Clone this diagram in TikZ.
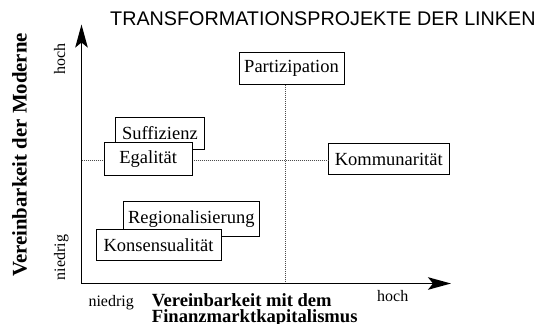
\documentclass[tikz,border=0pt]{standalone}
\usepackage{fontspec}
\setmainfont{Liberation Serif}
\newfontfamily\titlefont{Liberation Sans}
\usetikzlibrary{arrows.meta}
\begin{document}
\begin{tikzpicture}[x=1pt,y=-1pt,
  boxnode/.style={draw,line width=0.8pt,fill=white,inner sep=0pt,font=\fontsize{18.5}{20}\selectfont},
  axisline/.style={line width=1.8pt,-{Stealth[length=23pt,width=12.5pt,inset=5pt]}},
  guide/.style={line width=0.5pt,black!70,dash pattern=on 1pt off 1pt},
  smalllabel/.style={font=\fontsize{16}{18}\selectfont,inner sep=0pt},
  boldlabel/.style={font=\bfseries\fontsize{18.6}{16}\selectfont,inner sep=0pt}]
\useasboundingbox (0,0) rectangle (541,324);
\fill[white] (0,0) rectangle (541,324);
% coordinates
\coordinate (O) at (81.5,283.5);
\coordinate (ytip) at (81.5,24.5);
\coordinate (xtip) at (451,283.5);
\coordinate (vbot) at (285.6,283.5);
\coordinate (hl) at (81.5,160.3);
% boxes (back ones first)
\node[boxnode,minimum width=105pt,minimum height=32pt] (part) at (291.5,68.5) {Partizipation};
\node[boxnode,minimum width=120.5pt,minimum height=31.5pt] (komm) at (388.7,159) {Kommunarität};
% guides
\draw[guide] (vbot |- part.south) -- (vbot);
\draw[guide] (hl) -- (hl -| komm.west);
\node[boxnode,minimum width=88.3pt,minimum height=32pt] (suff) at (159.9,133.3) {Suffizienz};
\node[boxnode,minimum width=88.3pt,minimum height=33pt] (egal) at (148.2,159.2) {Egalität};
\node[boxnode,minimum width=136.6pt,minimum height=35.5pt] (reg) at (191.3,218.8) {Regionalisierung};
\node[boxnode,minimum width=125pt,minimum height=30.5pt] (kons) at (158.5,245) {Konsensualität};
% axes
\draw[axisline] (O) -- (ytip);
\draw[axisline] (O) -- (xtip);
% title
\node[anchor=base west,inner sep=0pt,font=\titlefont\fontsize{19.75}{22}\selectfont] (title) at (110,25.7) {TRANSFORMATIONSPROJEKTE DER LINKEN};
% y labels
\node[inner sep=0pt,rotate=90,anchor=base,font=\bfseries\fontsize{20.8}{22}\selectfont] (ylab) at (26.7,155) {Vereinbarkeit der Moderne};
\node[smalllabel,rotate=90,anchor=base] (yhoch) at (65,59) {hoch};
\node[smalllabel,rotate=90,anchor=base] (yniedrig) at (65,257.5) {niedrig};
% x labels
\node[smalllabel,anchor=base west] (xniedrig) at (88.3,306.7) {niedrig};
\node[smalllabel,anchor=base west] (xhoch) at (377,301.5) {hoch};
\node[boldlabel,anchor=base west] (xlabA) at (151.7,306.7) {Vereinbarkeit mit dem};
\node[boldlabel,anchor=base west] (xlabB) at (151.7,322.7) {Finanzmarktkapitalismus};
\end{tikzpicture}
\end{document}
